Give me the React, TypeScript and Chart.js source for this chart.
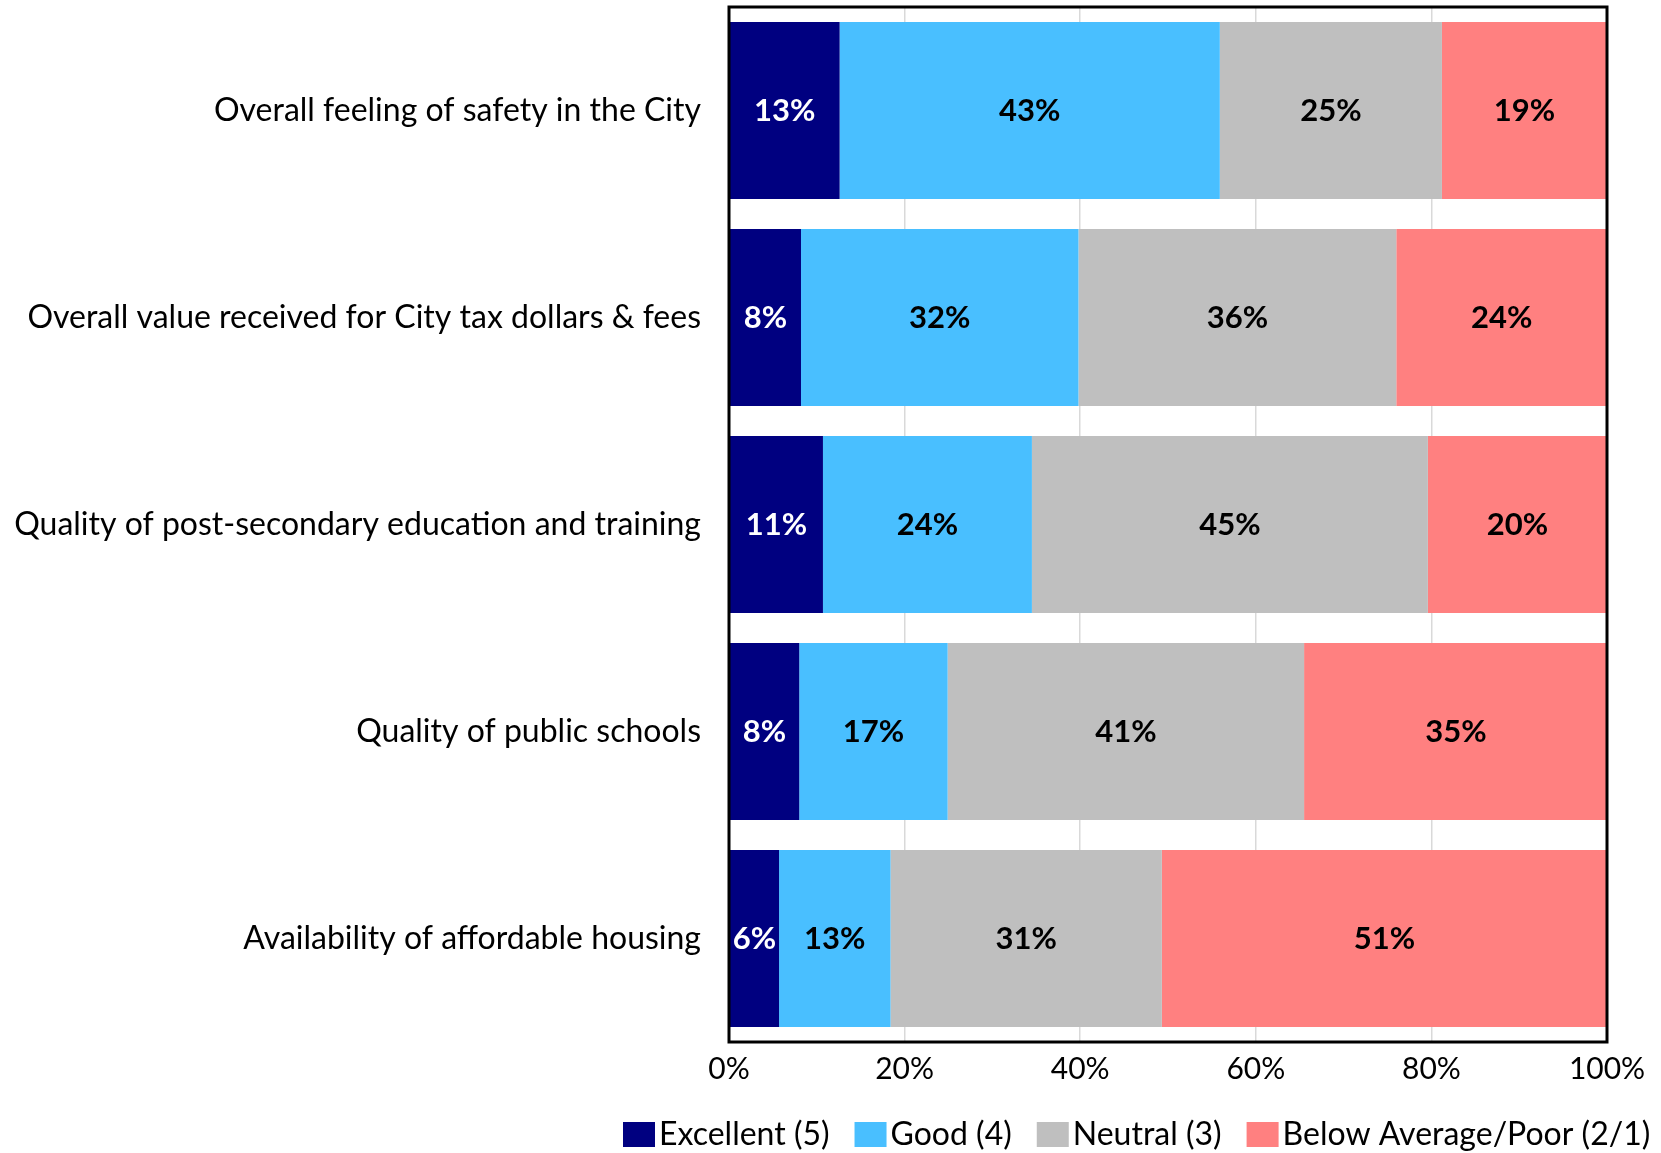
import React, { useEffect, useRef } from "react";
import { Chart, registerables } from "chart.js";

Chart.register(...registerables);

const categories = [
  "Overall feeling of safety in the City",
  "Overall value received for City tax dollars & fees",
  "Quality of post-secondary education and training",
  "Quality of public schools",
  "Availability of affordable housing",
];
const seriesNames = ["Excellent (5)", "Good (4)", "Neutral (3)", "Below Average/Poor (2/1)"];
const excellent = [12.6, 8.2, 10.7, 8.0, 5.7];
const good = [43.3, 31.6, 23.8, 16.9, 12.7];
const neutral = [25.3, 36.2, 45.1, 40.6, 30.9];
const belowPoor = [18.8, 24.0, 20.4, 34.6, 50.7];
const xTicks = [0, 20, 40, 60, 80, 100];

const colors = ["#000080", "#49BFFF", "#BFBFBF", "#FF8080"];
const labelColors = ["#FFFFFF", "#000000", "#000000", "#000000"];
const FONT = "Lato, 'Noto Sans', sans-serif";

const boxPlugin = {
  id: "plotBox",
  afterDatasetsDraw(chart: any) {
    const { ctx, chartArea } = chart;
    chart.data.datasets.forEach((ds: any, di: number) => {
      const meta = chart.getDatasetMeta(di);
      meta.data.forEach((bar: any, i: number) => {
        const v = ds.data[i];
        const cx = (bar.x + bar.base) / 2;
        ctx.save();
        ctx.font = `bold 31px ${FONT}`;
        ctx.fillStyle = labelColors[di];
        ctx.textAlign = "center";
        ctx.textBaseline = "middle";
        ctx.fillText(Math.round(v) + "%", cx, bar.y);
        ctx.restore();
      });
    });
    ctx.save();
    ctx.strokeStyle = "#000";
    ctx.lineWidth = 3;
    ctx.strokeRect(chartArea.left, chartArea.top, chartArea.right - chartArea.left, chartArea.bottom - chartArea.top);
    ctx.restore();
  },
  afterDraw(chart: any) {
    const { ctx } = chart;
    ctx.save();
    ctx.font = `32px ${FONT}`;
    ctx.textBaseline = "middle";
    ctx.textAlign = "left";
    let x = 623;
    const cy = 1134;
    chart.data.datasets.forEach((ds: any) => {
      ctx.fillStyle = ds.backgroundColor;
      ctx.fillRect(x, cy - 12, 32, 25);
      x += 36;
      ctx.fillStyle = "#000";
      ctx.fillText(ds.label, x, cy + 1);
      x += ctx.measureText(ds.label).width + 25;
    });
    ctx.restore();
  },
};

export default function App() {
  const ref = useRef<HTMLCanvasElement | null>(null);
  useEffect(() => {
    if (!ref.current) return;
    const data = [excellent, good, neutral, belowPoor];
    const chart = new Chart(ref.current, {
      type: "bar",
      data: {
        labels: categories,
        datasets: seriesNames.map((name, i) => ({
          label: name,
          data: data[i],
          backgroundColor: colors[i],
          borderWidth: 0,
          barPercentage: 0.855,
          categoryPercentage: 1,
        })),
      },
      options: {
        indexAxis: "y",
        animation: false,
        responsive: false,
        layout: { padding: { left: 0, right: 54, top: 7, bottom: 57 } },
        plugins: {
          legend: { display: false },
          tooltip: { enabled: false },
        },
        scales: {
          x: {
            stacked: true,
            min: 0,
            max: 100,
            afterBuildTicks: (scale: any) => {
              scale.ticks = xTicks.map((v) => ({ value: v }));
            },
            afterFit: (scale: any) => {
              scale.paddingLeft = 0;
            },
            ticks: {
              callback: (v: any) => v + "%",
              font: { family: FONT, size: 30 },
              color: "#000",
              padding: 9,
              maxRotation: 0,
            },
            grid: { color: "#D9D9D9", lineWidth: 1.5, drawTicks: false },
            border: { display: false },
          },
          y: {
            stacked: true,
            afterFit: (scale: any) => {
              scale.width = 729;
              scale.paddingTop = 0;
              scale.paddingBottom = 0;
            },
            ticks: {
              font: { family: FONT, size: 32 },
              color: "#000",
              padding: 28,
            },
            grid: { display: false, drawTicks: false },
            border: { display: false },
          },
        },
      },
      plugins: [boxPlugin],
    } as any);
    return () => chart.destroy();
  }, []);
  return (
    <div style={{ position: "absolute", left: 0, top: 0, width: 1661, height: 1153, background: "#fff" }}>
      <canvas ref={ref} width={1661} height={1153} />
    </div>
  );
}
